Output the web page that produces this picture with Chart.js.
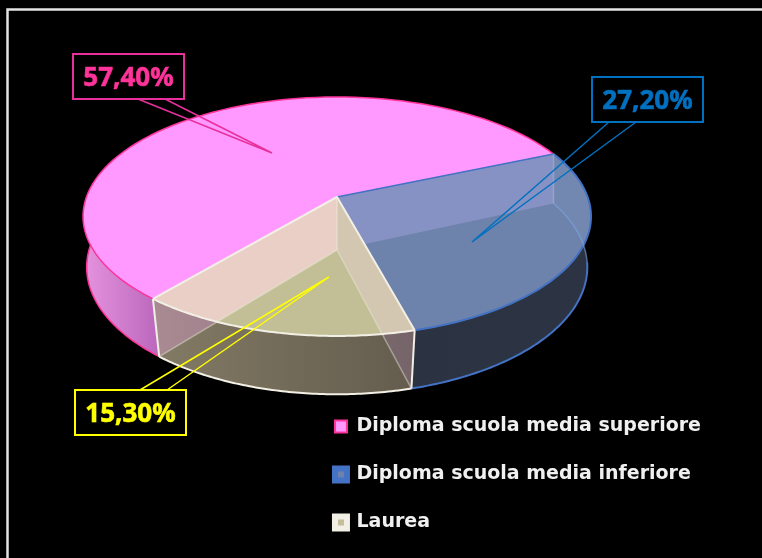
<!DOCTYPE html>
<html>
<head>
<meta charset="utf-8">
<style>
  html, body { margin: 0; background: #000; overflow: hidden; }
  #torta { display: block; filter: blur(0.5px); }
</style>
<script src="https://cdn.jsdelivr.net/npm/chart.js@4"></script>
</head>
<body>
<canvas id="torta" width="762" height="558"></canvas>
<script>
const categories = [
  "Diploma scuola media superiore",
  "Diploma scuola media inferiore",
  "Laurea",
];
const percentages = [57.4, 27.2, 15.3];

const sliceColors = ["#ff99ff", "#6e83ab", "#c4bd9a"];
const edgeColors = ["#ff3399", "#4472c4", "#f2efe5"];
const legendBorders = [2, 6, 6];

// perspective of the top and bottom discs: apex, half axes, depth factor
const topDisc = { x: 337, y: 197, a: 250.6, b: 116.3, k: -0.163 };
const botDisc = { x: 337, y: 250, a: 248, b: 124.8, k: -0.135 };

// callout boxes for the data labels
const callouts = [
  { box: [73, 54, 111, 45], base: [138, 165], side: "bottom", tip: [272, 153], color: "#e8309c", text: "#ff3399" },
  { box: [592, 77, 111, 45], base: [609, 636], side: "bottom", tip: [472, 242], color: "#0070c0", text: "#0070c0" },
  { box: [75, 390, 111, 45], base: [140, 167], side: "top", tip: [329, 277], color: "#ffff00", text: "#ffff00" },
];

function project(disc, angle) {
  const u = Math.cos(angle);
  const v = Math.sin(angle);
  const w = 1 + disc.k * v;
  return [disc.x + (disc.a * u) / w, disc.y + (disc.b * v) / w];
}

function arcPoints(disc, from, to) {
  const pts = [];
  const steps = 80;
  for (let i = 0; i <= steps; i++) {
    pts.push(project(disc, from + ((to - from) * i) / steps));
  }
  return pts;
}

function shape(ctx, pts, close) {
  ctx.beginPath();
  pts.forEach((p, i) => (i ? ctx.lineTo(p[0], p[1]) : ctx.moveTo(p[0], p[1])));
  if (close) ctx.closePath();
}

function fillShape(ctx, pts, fill) {
  shape(ctx, pts, true);
  ctx.fillStyle = fill;
  ctx.fill();
}

function strokeShape(ctx, pts, color, width) {
  shape(ctx, pts, false);
  ctx.strokeStyle = color;
  ctx.lineWidth = width;
  ctx.stroke();
}

function sideGradient(ctx, x0, x1, c0, c1) {
  const g = ctx.createLinearGradient(x0, 0, x1, 0);
  g.addColorStop(0, c0);
  g.addColorStop(1, c1);
  return g;
}

function apex(disc) {
  return [disc.x, disc.y];
}

function sector(disc, from, to) {
  return [apex(disc), ...arcPoints(disc, from, to)];
}

function wall(from, to) {
  return [...arcPoints(topDisc, from, to), ...arcPoints(botDisc, to, from)];
}

function radial(angle) {
  return [apex(topDisc), project(topDisc, angle), project(botDisc, angle), apex(botDisc)];
}

const pie3d = {
  id: "pie3d",
  beforeDatasetDraw(chart) {
    const ctx = chart.ctx;
    const arcs = chart.getDatasetMeta(0).data;
    const pink = arcs[0];
    const blue = arcs[1];
    const laurea = arcs[2];
    const pinkEnd = pink.startAngle + (70 * Math.PI) / 180;

    ctx.save();
    ctx.lineJoin = "round";

    // pink and blue outer walls
    fillShape(ctx, wall(pink.startAngle, pinkEnd), sideGradient(ctx, 84, 158, "#e593de", "#bb68bd"));
    fillShape(ctx, wall(blue.startAngle, blue.endAngle), sideGradient(ctx, 412, 590, "#2b3342", "#2c3444"));
    strokeShape(ctx, arcPoints(botDisc, blue.startAngle + 0.5, blue.endAngle), edgeColors[1], 2);
    strokeShape(ctx, arcPoints(botDisc, pink.startAngle, pinkEnd), edgeColors[0], 1.5);

    // pink top and the wall seen through the blue slice
    fillShape(ctx, sector(topDisc, pink.startAngle, pink.endAngle), sliceColors[0]);
    fillShape(ctx, radial(blue.startAngle), sliceColors[0]);
    strokeShape(ctx, arcPoints(topDisc, pink.startAngle, pink.endAngle), edgeColors[0], 1.5);

    // blue top
    fillShape(ctx, sector(topDisc, blue.startAngle, blue.endAngle), "rgba(122,145,190,0.9)");
    strokeShape(ctx, arcPoints(topDisc, blue.startAngle, blue.endAngle), edgeColors[1], 2);
    strokeShape(ctx, [apex(topDisc), project(topDisc, blue.startAngle)], edgeColors[1], 1.5);
    strokeShape(ctx, arcPoints(botDisc, blue.startAngle, blue.startAngle + 0.5), "rgba(125,165,225,0.6)", 1.5);
    strokeShape(ctx, [project(topDisc, blue.startAngle), project(botDisc, blue.startAngle)], "rgba(170,185,225,0.5)", 1.5);

    // laurea: walls behind it, then its own translucent faces
    fillShape(ctx, radial(laurea.endAngle), sliceColors[0]);
    fillShape(ctx, radial(laurea.startAngle), "rgb(168,120,176)");
    fillShape(ctx, sector(botDisc, laurea.startAngle, laurea.endAngle), "rgb(100,90,70)");
    fillShape(
      ctx,
      wall(laurea.startAngle, laurea.endAngle),
      sideGradient(ctx, 158, 412, "rgba(140,133,110,0.75)", "rgba(100,93,81,0.75)")
    );
    fillShape(ctx, sector(topDisc, laurea.startAngle, laurea.endAngle), "rgba(226,226,178,0.75)");

    const soft = "rgba(242,239,225,0.45)";
    strokeShape(ctx, [project(botDisc, laurea.endAngle), apex(botDisc), project(botDisc, laurea.startAngle)], soft, 1.5);
    strokeShape(ctx, [apex(botDisc), apex(topDisc)], soft, 1.5);
    strokeShape(ctx, [project(topDisc, laurea.endAngle), apex(topDisc), project(topDisc, laurea.startAngle)], edgeColors[2], 2);
    strokeShape(ctx, arcPoints(topDisc, laurea.startAngle, laurea.endAngle), edgeColors[2], 2);
    strokeShape(ctx, arcPoints(botDisc, laurea.startAngle, laurea.endAngle), edgeColors[2], 2);
    strokeShape(ctx, [project(topDisc, laurea.startAngle), project(botDisc, laurea.startAngle)], edgeColors[2], 2);
    strokeShape(ctx, [project(topDisc, laurea.endAngle), project(botDisc, laurea.endAngle)], edgeColors[2], 2);

    ctx.restore();
    return false;
  },
  afterDraw(chart) {
    const ctx = chart.ctx;
    ctx.save();

    // frame, only top and left show in the picture
    ctx.strokeStyle = "#e4e4e4";
    ctx.lineWidth = 2.5;
    ctx.beginPath();
    ctx.moveTo(7.5, 558);
    ctx.lineTo(7.5, 9.5);
    ctx.lineTo(762, 9.5);
    ctx.stroke();

    callouts.forEach((c, i) => {
      const [x, y, w, h] = c.box;
      const edge = c.side === "bottom" ? y + h : y;
      ctx.strokeStyle = c.color;
      ctx.lineWidth = 2;
      ctx.strokeRect(x, y, w, h);

      ctx.lineWidth = 1.5;
      ctx.beginPath();
      ctx.moveTo(c.base[0], edge);
      ctx.lineTo(c.tip[0], c.tip[1]);
      ctx.lineTo(c.base[1], edge);
      ctx.stroke();

      const label = percentages[i].toFixed(2).replace(".", ",") + "%";
      ctx.fillStyle = c.text;
      ctx.strokeStyle = c.text;
      ctx.lineWidth = 0.6;
      ctx.font = "bold 26px 'Noto Sans'";
      ctx.textAlign = "center";
      ctx.textBaseline = "middle";
      ctx.fillText(label, x + w / 2, y + h / 2 + 2);
      ctx.strokeText(label, x + w / 2, y + h / 2 + 2);
    });
    ctx.restore();
  },
};

new Chart(document.getElementById("torta"), {
  type: "pie",
  data: {
    labels: categories,
    datasets: [
      {
        data: percentages,
        backgroundColor: sliceColors,
        borderColor: edgeColors,
        borderWidth: legendBorders,
      },
    ],
  },
  options: {
    responsive: false,
    animation: false,
    rotation: 220,
    layout: { padding: { right: 51, bottom: -3 } },
    plugins: {
      tooltip: { enabled: false },
      legend: {
        position: "right",
        align: "end",
        maxWidth: 460,
        labels: {
          color: "#f0f0f0",
          boxWidth: 12,
          boxHeight: 12,
          padding: 29,
          font: { family: "'DejaVu Sans'", size: 19, weight: "bold" },
        },
      },
    },
  },
  plugins: [pie3d],
});
</script>
</body>
</html>
